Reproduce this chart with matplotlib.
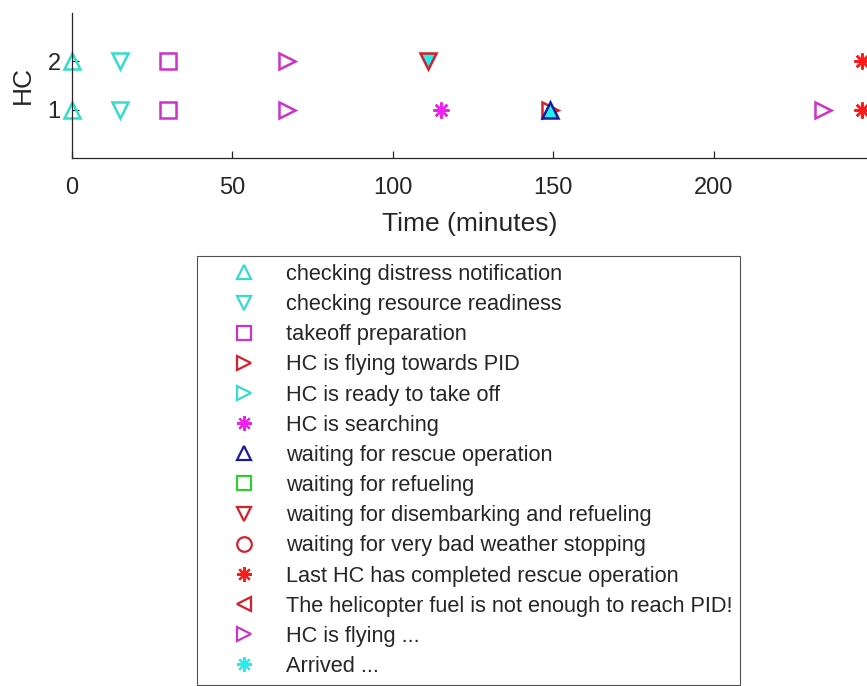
import matplotlib
matplotlib.use('Agg')
import matplotlib.pyplot as plt
from matplotlib.lines import Line2D

plt.rcParams['font.family'] = ['Liberation Sans', 'DejaVu Sans']

# helicopter states: legend label, marker, colour
state_labels = ['checking distress notification', 'checking resource readiness',
                'takeoff preparation', 'HC is flying towards PID', 'HC is ready to take off',
                'HC is searching', 'waiting for rescue operation', 'waiting for refueling',
                'waiting for disembarking and refueling', 'waiting for very bad weather stopping',
                'Last HC has completed rescue operation',
                'The helicopter fuel is not enough to reach PID!',
                'HC is flying ...', 'Arrived ...']
ast = (8, 2, 0)
state_markers = ['^', 'v', 's', '>', '>', ast, '^', 's', 'v', 'o', ast, '<', '>', ast]
cyan = '#33dccc'
mag = '#cc33cc'
red = '#d8202c'
state_colors = [cyan, cyan, mag, red, cyan, '#ee22ee', '#1a1a9a', '#33cc33',
                red, red, '#ff1a1a', red, mag, '#22eeee']

# events per helicopter: time (minutes), state index, face filled with cyan on arrival
hc1_times = [0, 15, 30, 67, 115, 149, 149, 234, 246]
hc1_states = [0, 1, 2, 12, 5, 3, 6, 12, 10]
hc1_arrived = [0, 0, 0, 0, 0, 0, 1, 0, 0]

hc2_times = [0, 15, 30, 67, 111, 246]
hc2_states = [0, 1, 2, 12, 8, 10]
hc2_arrived = [0, 0, 0, 0, 1, 0]

fig = plt.figure(figsize=(8.67, 6.86), dpi=100)
ax = fig.add_axes([0.083, 0.7697, 0.917, 0.2114])

ms = 11.5
mew = 1.8
for hc, (times, states, arrived) in enumerate([(hc1_times, hc1_states, hc1_arrived),
                                               (hc2_times, hc2_states, hc2_arrived)], start=1):
    for t, s, a in zip(times, states, arrived):
        ax.plot(t, hc, linestyle='none', marker=state_markers[s], color=state_colors[s],
                markersize=ms, markeredgewidth=mew,
                markerfacecolor=state_colors[13] if a else 'none', clip_on=False)

ax.set_xlim(0, 247.7)
ax.set_ylim(0, 3)
ax.set_xticks([0, 50, 100, 150, 200])
ax.set_yticks([1, 2])
for side in ['top', 'right']:
    ax.spines[side].set_visible(False)
for side in ['left', 'bottom']:
    ax.spines[side].set_color('#262626')
    ax.spines[side].set_linewidth(0.9)
ax.tick_params(direction='in', length=5, width=0.9, colors='#262626', labelsize=17,
               labelcolor='#262626')
ax.tick_params(axis='x', pad=14)
ax.tick_params(axis='y', pad=8)
ax.set_xlabel('Time (minutes)', fontsize=19, color='#262626', labelpad=9)
ax.set_ylabel('HC', fontsize=19, color='#262626', labelpad=9)

handles = [Line2D([], [], linestyle='none', marker=m, color=c, markersize=10.5,
                  markeredgewidth=1.6, markerfacecolor='none')
           for m, c in zip(state_markers, state_colors)]
leg = fig.legend(handles, state_labels, loc='center', bbox_to_anchor=(0.5404, 0.3141),
                 fontsize=15.7, frameon=True, fancybox=False, borderpad=0.35,
                 labelspacing=0.42, handlelength=3.6, handletextpad=0.14,
                 borderaxespad=0)
leg.get_frame().set_edgecolor('#262626')
leg.get_frame().set_linewidth(0.8)
for txt in leg.get_texts():
    txt.set_color('#262626')

fig.savefig('out.png', dpi=100)
